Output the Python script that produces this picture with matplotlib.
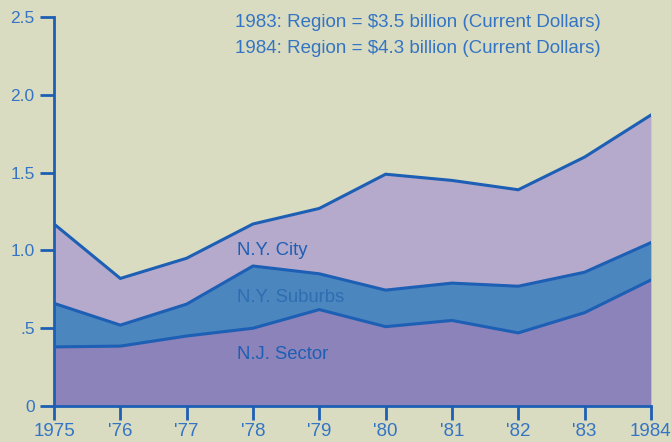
import matplotlib
matplotlib.use('Agg')
import matplotlib.pyplot as plt

years = [1975, 1976, 1977, 1978, 1979, 1980, 1981, 1982, 1983, 1984]
year_labels = ['1975', "'76", "'77", "'78", "'79", "'80", "'81", "'82", "'83", '1984']

# cumulative tops of each band (billions of dollars)
nj_sector = [0.38, 0.385, 0.45, 0.50, 0.62, 0.51, 0.55, 0.47, 0.60, 0.81]
ny_suburbs_top = [0.66, 0.52, 0.655, 0.90, 0.85, 0.745, 0.79, 0.77, 0.86, 1.05]
ny_city_top = [1.17, 0.82, 0.95, 1.17, 1.27, 1.49, 1.45, 1.39, 1.60, 1.87]

y_ticks = [0, 0.5, 1.0, 1.5, 2.0, 2.5]
y_labels = ['0', '.5', '1.0', '1.5', '2.0', '2.5']

bg = '#d9dcc1'
line_c = '#1d5fb4'
text_c = '#3474c4'

plt.rcParams['font.family'] = ['Liberation Sans', 'DejaVu Sans']


def main():
  fig = plt.figure(figsize=(6.71, 4.42), dpi=100, facecolor=bg)
  ax = fig.add_axes([0.0805, 0.0814, 0.8895, 0.880])
  ax.set_facecolor(bg)

  ax.fill_between(years, 0, nj_sector, color='#8b83b9', lw=0)
  ax.fill_between(years, nj_sector, ny_suburbs_top, color='#4b86bf', lw=0)
  ax.fill_between(years, ny_suburbs_top, ny_city_top, color='#b5aacb', lw=0)
  for s in (nj_sector, ny_suburbs_top, ny_city_top):
    ax.plot(years, s, color=line_c, lw=2.2, solid_joinstyle='miter')

  ax.set_xlim(1975, 1984)
  ax.set_ylim(0, 2.5)
  ax.set_xticks(years)
  ax.set_xticklabels(year_labels, fontsize=13.5, color=text_c)
  ax.set_yticks(y_ticks)
  ax.set_yticklabels(y_labels, fontsize=12.5, color=text_c)
  ax.tick_params(axis='both', colors=line_c, width=2, length=10, labelcolor=text_c)
  ax.tick_params(axis='x', pad=2)
  ax.tick_params(axis='y', pad=4)
  for side in ('top', 'right'):
    ax.spines[side].set_visible(False)
  for side in ('left', 'bottom'):
    ax.spines[side].set_color(line_c)
    ax.spines[side].set_linewidth(2)

  ax.text(1977.76, 1.0, 'N.Y. City', fontsize=13.3, color=line_c, va='center')
  ax.text(1977.76, 0.70, 'N.Y. Suburbs', fontsize=13.3, color='#2f6db3', va='center')
  ax.text(1977.76, 0.33, 'N.J. Sector', fontsize=13.3, color=line_c, va='center')

  fig.text(0.350, 0.950, '1983: Region = $3.5 billion (Current Dollars)',
           fontsize=13.5, color=text_c, va='center')
  fig.text(0.350, 0.890, '1984: Region = $4.3 billion (Current Dollars)',
           fontsize=13.5, color=text_c, va='center')

  fig.savefig('out.png', dpi=100, facecolor=bg)


if __name__ == "__main__":
  main()
